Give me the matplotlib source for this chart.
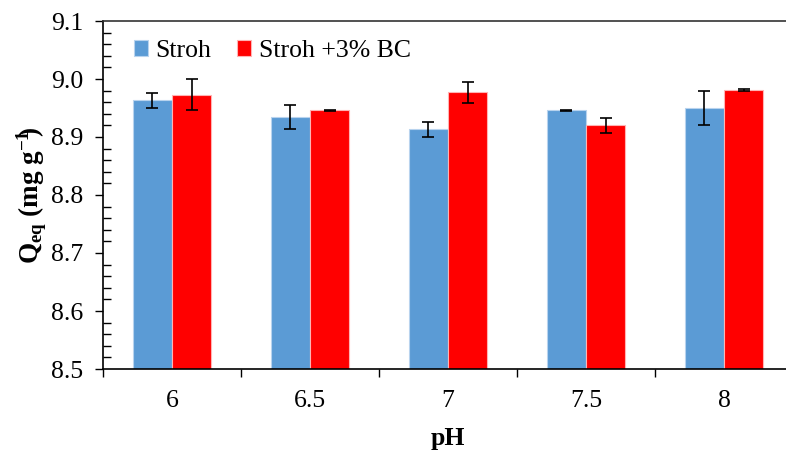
import matplotlib
matplotlib.use("Agg")
import matplotlib.pyplot as plt
import numpy as np
from matplotlib.ticker import MultipleLocator, FixedLocator, NullFormatter

# Adsorption capacity at equilibrium for each pH
ph_labels = ["6", "6.5", "7", "7.5", "8"]
stroh = [8.963, 8.935, 8.913, 8.946, 8.950]
stroh_err = [0.013, 0.021, 0.0125, 0.001, 0.029]
stroh_bc = [8.973, 8.946, 8.977, 8.920, 8.981]
stroh_bc_err = [0.027, 0.001, 0.018, 0.0135, 0.001]

plt.rcParams["font.family"] = ["Liberation Serif", "DejaVu Serif"]
plt.rcParams["mathtext.fontset"] = "custom"
plt.rcParams["mathtext.rm"] = "Liberation Serif"
plt.rcParams["mathtext.bf"] = "Liberation Serif:bold"
plt.rcParams["mathtext.it"] = "Liberation Serif:italic"

FS = 18.5
W, H = 786, 457
fig = plt.figure(figsize=(W / 100, H / 100), dpi=100)
left, right, top, bottom = 103, 793, 21, 369
ax = fig.add_axes([left / W, 1 - bottom / H, (right - left) / W, (bottom - top) / H])

x = np.arange(len(ph_labels))
w = 0.285
ax.bar(x - w / 2, stroh, w, color="#5B9BD5", edgecolor="#B8D3EE",
       linewidth=0.8, label="Stroh", zorder=2)
ax.bar(x + w / 2, stroh_bc, w, color="#FF0000", edgecolor="#FFB3B3",
       linewidth=0.8, label="Stroh +3% BC", zorder=2)
ax.errorbar(x - w / 2, stroh, yerr=stroh_err, fmt="none", ecolor="black",
            elinewidth=1.2, capsize=4.5, capthick=1.2, zorder=3)
ax.errorbar(x + w / 2, stroh_bc, yerr=stroh_bc_err, fmt="none", ecolor="black",
            elinewidth=1.2, capsize=4.5, capthick=1.2, zorder=3)

ax.set_ylim(8.5, 9.1)
ax.set_xlim(-0.5, len(ph_labels) - 0.5)
ax.yaxis.set_major_locator(MultipleLocator(0.1))
ax.yaxis.set_minor_locator(MultipleLocator(0.02))
ax.set_yticklabels([f"{v:.1f}" for v in ax.get_yticks()])
ax.tick_params(axis="y", which="major", direction="out", length=6, width=1,
               labelsize=FS, pad=8)
ax.tick_params(axis="y", which="minor", direction="in", length=6, width=1)

# category boundaries carry the tick marks, labels sit at the centres
ax.xaxis.set_major_locator(FixedLocator(np.arange(-0.5, len(ph_labels), 1.0)))
ax.xaxis.set_major_formatter(NullFormatter())
ax.xaxis.set_minor_locator(FixedLocator(x))
ax.set_xticklabels(ph_labels, minor=True)
ax.tick_params(axis="x", which="major", direction="out", length=6, width=1)
ax.tick_params(axis="x", which="minor", length=0, labelsize=FS, pad=15)

for s in ["left", "bottom", "top"]:
    ax.spines[s].set_linewidth(1.2)
ax.spines["top"].set_color("#333333")
ax.spines["right"].set_visible(False)

ax.set_xlabel("pH", fontsize=FS, fontweight="bold", labelpad=11)
ax.set_ylabel(r"$\mathbf{Q_{eq}\ (mg\ g^{-1}\!\!)}$", fontsize=19.5, labelpad=2)

leg = ax.legend(loc="upper left", bbox_to_anchor=(0.022, 0.99), ncol=2,
                frameon=False, fontsize=FS, handlelength=0.55, handleheight=0.55,
                handletextpad=0.3, columnspacing=1.0, borderaxespad=0.2)

fig.savefig("out.png", dpi=100)
